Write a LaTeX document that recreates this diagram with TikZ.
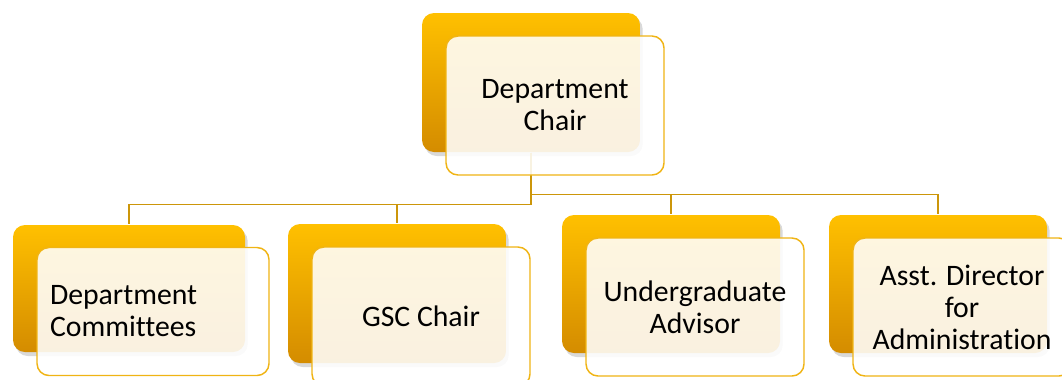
\documentclass[tikz,border=0pt]{standalone}
\usepackage{fontspec}
\setmainfont{Carlito}[Ligatures={NoCommon}]
\usetikzlibrary{shadows,positioning}

\definecolor{goldtop}{RGB}{255,192,0}
\definecolor{goldbottom}{RGB}{212,140,0}
\definecolor{goldedge}{RGB}{240,180,20}
\definecolor{goldline}{RGB}{204,150,10}

\begin{document}
\begin{tikzpicture}
        [x = 0.75pt, y = -0.75pt, thick,
        back/.style = {rectangle, rounded corners = 9pt, top color = goldtop, bottom color = goldbottom,
            minimum width = 163.5pt, minimum height = 104.25pt, inner sep = 0pt,
            drop shadow = {shadow xshift = 2pt, shadow yshift = -3pt, opacity = 0.3}},
        front/.style = {rectangle, rounded corners = 9pt, draw = goldedge, line width = 1.1pt,
            fill = white, fill opacity = 0.88, text opacity = 1, align = center,
            minimum width = 163.5pt, minimum height = 104.25pt, xshift = 18pt, yshift = -17.25pt,
            font = \fontsize{22.3}{24}\selectfont},
        link/.style = {draw = goldline, line width = 1.1pt}]

        \useasboundingbox (0,0) rectangle (1062,379);

        %% back boxes
        \node[back] (chairback) at (531,82.5) {};
        \node[back, minimum width = 174pt, minimum height = 95.25pt] (dcback) at (129,288.5) {};
        \node[back] (gscback) at (397,293.5) {};
        \node[back, minimum height = 103.5pt] (uaback) at (671,284) {};
        \node[back, minimum height = 103.5pt] (adaback) at (938,284) {};

        %% connect elements
        \draw[link] (chairback.south) -- ++(0,52) -| (dcback.north);
        \draw[link] (chairback.south) -- ++(0,52) -| (gscback.north);
        \draw[link] (chairback.south) -- ++(0,42) -| (uaback.north);
        \draw[link] (chairback.south) -- ++(0,42) -| (adaback.north);

        %% front boxes with text
        \node[front] (chair) at (chairback) {Department\\Chair};
        \node[front, minimum width = 174pt, minimum height = 96pt, align = left, text width = 154.5pt]
            (dc) at (dcback) {Department\\Committees};
        \node[front] (gsc) at (gscback) {GSC Chair};
        \node[front, minimum height = 103.5pt] (ua) at (uaback) {Undergraduate\\Advisor};
        \node[front, minimum height = 103.5pt] (ada) at (adaback) {Asst. Director\\for\\Administration};
    \end{tikzpicture}
\end{document}
